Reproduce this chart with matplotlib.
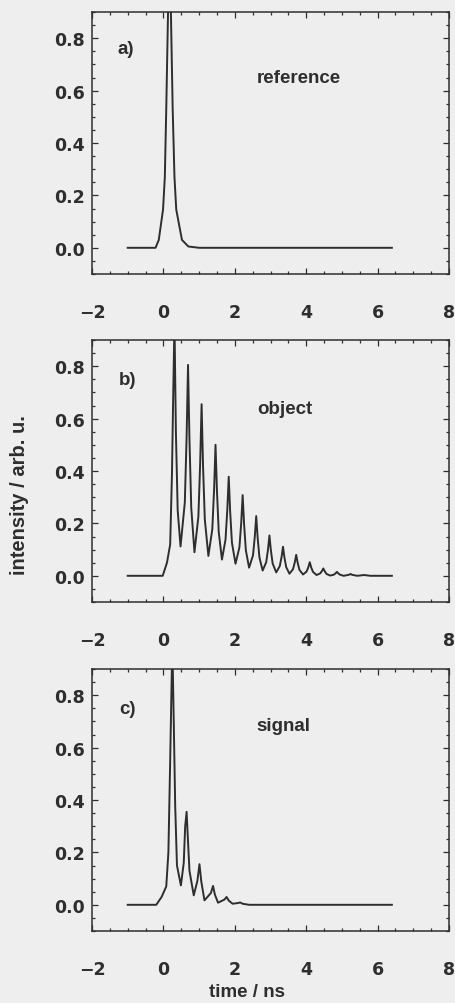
import matplotlib
matplotlib.use("Agg")
import matplotlib.pyplot as plt
from matplotlib.ticker import MultipleLocator, FormatStrFormatter

plt.rcParams.update({
    "font.family": ["Liberation Sans", "DejaVu Sans"],
    "font.weight": "bold",
    "font.size": 13,
})

# ── Data ──────────────────────────────────────────────────────────────────────
# a) reference pulse
ref_t = [-1.0, -0.22, -0.13, -0.01, 0.04, 0.08, 0.13, 0.17, 0.21, 0.26,
         0.31, 0.36, 0.52, 0.70, 1.00, 6.4]
ref_i = [0.0, 0.0, 0.03, 0.146, 0.27, 0.53, 0.90, 1.00, 0.90, 0.53,
         0.27, 0.146, 0.03, 0.005, 0.0, 0.0]

# b) object response (pulse train)
obj_t = [-1.0, -0.02, 0.10, 0.19, 0.24, 0.27, 0.31, 0.35, 0.40, 0.48,
         0.60, 0.65, 0.69, 0.73, 0.78, 0.87,
         0.98, 1.03, 1.07, 1.11, 1.16, 1.26,
         1.37, 1.42, 1.46, 1.50, 1.55, 1.64,
         1.74, 1.79, 1.83, 1.87, 1.92, 2.02,
         2.13, 2.18, 2.22, 2.26, 2.31, 2.40,
         2.51, 2.56, 2.60, 2.64, 2.69, 2.78,
         2.88, 2.93, 2.97, 3.01, 3.06, 3.16,
         3.26, 3.31, 3.35, 3.39, 3.44, 3.53,
         3.63, 3.68, 3.72, 3.76, 3.81, 3.91,
         4.01, 4.06, 4.10, 4.14, 4.19, 4.29,
         4.39, 4.44, 4.48, 4.52, 4.57, 4.67,
         4.77, 4.82, 4.86, 4.90, 4.95, 5.05,
         5.20, 5.24, 5.28, 5.43, 5.62, 5.80, 6.4]
obj_i = [0.0, 0.0, 0.05, 0.12, 0.39, 0.65, 0.97, 0.55, 0.25, 0.112,
         0.28, 0.53, 0.805, 0.52, 0.26, 0.090,
         0.226, 0.43, 0.655, 0.42, 0.215, 0.076,
         0.178, 0.33, 0.50, 0.325, 0.167, 0.062,
         0.138, 0.252, 0.378, 0.245, 0.126, 0.046,
         0.109, 0.203, 0.308, 0.197, 0.097, 0.031,
         0.078, 0.149, 0.228, 0.145, 0.070, 0.020,
         0.052, 0.100, 0.154, 0.098, 0.047, 0.013,
         0.037, 0.072, 0.111, 0.070, 0.033, 0.008,
         0.025, 0.051, 0.080, 0.050, 0.023, 0.005,
         0.016, 0.033, 0.052, 0.032, 0.015, 0.003,
         0.009, 0.018, 0.028, 0.017, 0.007, 0.001,
         0.004, 0.009, 0.015, 0.009, 0.004, 0.0,
         0.004, 0.007, 0.004, 0.0, 0.003, 0.0, 0.0]

# c) signal
sig_t = [-1.0, -0.20, -0.05, 0.08, 0.14, 0.19, 0.25, 0.29, 0.33, 0.38,
         0.49, 0.57, 0.61, 0.65, 0.69, 0.73, 0.85, 0.95, 1.01, 1.06,
         1.15, 1.33, 1.39, 1.44, 1.53, 1.71, 1.77, 1.83, 1.94, 2.10,
         2.15, 2.22, 2.40, 6.4]
sig_i = [0.0, 0.0, 0.03, 0.07, 0.20, 0.55, 1.00, 0.70, 0.38, 0.15,
         0.074, 0.16, 0.30, 0.355, 0.24, 0.13, 0.036, 0.09, 0.155, 0.09,
         0.017, 0.045, 0.072, 0.04, 0.008, 0.02, 0.03, 0.016, 0.004, 0.007,
         0.009, 0.004, 0.0, 0.0]

panel_tags = ["a)", "b)", "c)"]
panel_names = ["reference", "object", "signal"]
series = [(ref_t, ref_i), (obj_t, obj_i), (sig_t, sig_i)]
name_pos = [(3.80, 0.65), (3.41, 0.64), (3.36, 0.683)]
tag_pos = [(-1.05, 0.76), (-1.01, 0.75), (-1.01, 0.75)]

INK = "#2e2e2e"
PAPER = "#eeeeee"

# ── Figure ────────────────────────────────────────────────────────────────────
W, H = 456, 1004
fig = plt.figure(figsize=(W / 100, H / 100), dpi=100, facecolor=PAPER)

ax_left, ax_w, ax_h = 92 / W, 357 / W, 262 / H
bottoms_px = [275, 603, 932]

for k in range(3):
    ax = fig.add_axes([ax_left, 1 - bottoms_px[k] / H, ax_w, ax_h])
    ax.set_facecolor(PAPER)
    t, y = series[k]
    ax.plot(t, y, color=INK, lw=1.4, solid_joinstyle="round")
    ax.set_xlim(-2, 8)
    ax.set_ylim(-0.1, 0.9)
    ax.xaxis.set_major_locator(MultipleLocator(2))
    ax.xaxis.set_minor_locator(MultipleLocator(0.5))
    ax.yaxis.set_major_locator(MultipleLocator(0.2))
    ax.yaxis.set_minor_locator(MultipleLocator(0.05))
    ax.yaxis.set_major_formatter(FormatStrFormatter("%.1f"))
    ax.tick_params(which="both", direction="in", top=True, right=True,
                   color=INK, labelcolor=INK, width=0.9,
                   labelsize=12.5, labelfontfamily="DejaVu Sans")
    ax.tick_params(which="major", length=4.5)
    ax.tick_params(which="minor", length=2.2)
    ax.tick_params(axis="x", which="major", pad=21)
    ax.tick_params(axis="y", which="major", pad=5)
    for sp in ax.spines.values():
        sp.set_color(INK)
        sp.set_linewidth(1.1)
    ax.text(*tag_pos[k], panel_tags[k], ha="center", va="center",
            color=INK, fontsize=13.5)
    ax.text(*name_pos[k], panel_names[k], ha="center", va="center",
            color=INK, fontsize=13.5)

fig.text(20 / W, 1 - 495 / H, "intensity / arb. u.", rotation=90,
         ha="center", va="center", color=INK, fontsize=14.5)
fig.text(247 / W, 1 - 993 / H, "time / ns", ha="center", va="center",
         color=INK, fontsize=13.5)

fig.savefig("out.png", dpi=100, facecolor=PAPER)
